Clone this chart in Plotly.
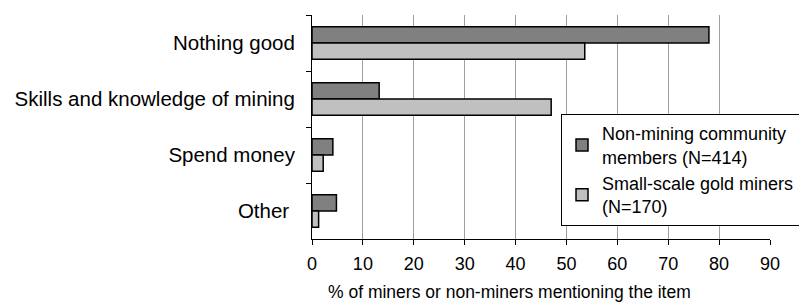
import plotly.graph_objects as go

categories = ["Nothing good", "Skills and knowledge of mining", "Spend money", "Other\u00a0"]
non_miners = [78, 13.2, 4.1, 4.8]
miners = [53.6, 47.0, 2.2, 1.3]
series_names = ["Non-mining community<br>members (N=414)", "Small-scale gold miners<br>(N=170)"]
x_ticks = [0, 10, 20, 30, 40, 50, 60, 70, 80, 90]
x_title = "% of miners or non-miners mentioning the item"

FONT = "Liberation Sans, Arial, sans-serif"

fig = go.Figure()
fig.add_trace(go.Bar(
    y=categories, x=non_miners, orientation="h", name=series_names[0],
    marker=dict(color="#808080", line=dict(color="black", width=1.5)),
))
fig.add_trace(go.Bar(
    y=categories, x=miners, orientation="h", name=series_names[1],
    marker=dict(color="#c0c0c0", line=dict(color="black", width=1.5)),
))

fig.update_layout(
    width=799, height=306,
    margin=dict(l=312, r=29, t=15, b=67, autoexpand=False),
    plot_bgcolor="white", paper_bgcolor="white",
    barmode="group", bargap=0.42, bargroupgap=0,
    font=dict(family=FONT, color="black"),
    legend=dict(
        x=0.5437, y=0.558, xanchor="left", yanchor="top",
        bordercolor="black", borderwidth=1, bgcolor="white",
        font=dict(size=18, family=FONT, color="black"),
        tracegroupgap=2, itemwidth=30,
    ),
    showlegend=True,
    annotations=[dict(
        text=x_title, xref="paper", yref="paper", x=0.431, y=-0.2366,
        xanchor="center", yanchor="middle", showarrow=False,
        font=dict(size=17.5, family=FONT, color="black"),
    )],
)
fig.update_xaxes(
    range=[0, 90], tickvals=x_ticks, ticktext=[str(v) for v in x_ticks],
    showgrid=True, gridcolor="#a0a0a0", gridwidth=1,
    showline=True, linecolor="black", linewidth=1,
    ticks="outside", ticklen=5, tickcolor="black",
    tickfont=dict(size=18), zeroline=False, ticklabelstandoff=3,
)
fig.update_yaxes(
    autorange="reversed", showgrid=False,
    showline=True, linecolor="black", linewidth=1,
    ticks="outside", ticklen=5, tickcolor="black", tickson="boundaries",
    tickfont=dict(size=20.5), ticklabelstandoff=12,
)

fig.write_html(
    "out.html",
    config={"displayModeBar": False},
    post_script="document.body.style.margin='0';document.body.style.overflow='hidden';",
)
